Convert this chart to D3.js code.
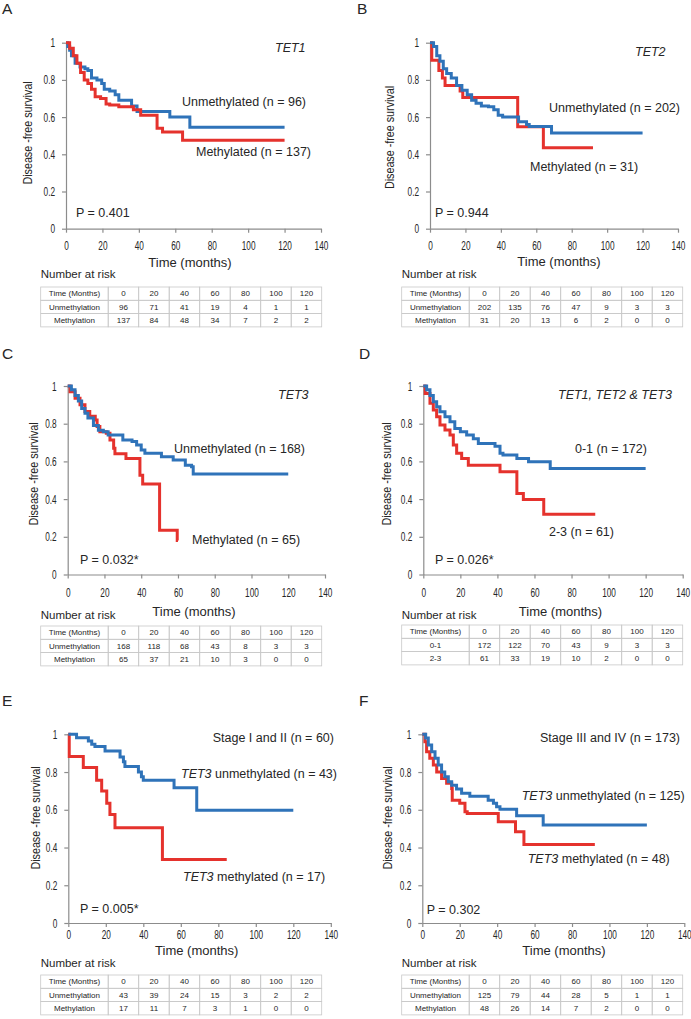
<!DOCTYPE html>
<html><head><meta charset="utf-8">
<script src="https://cdn.jsdelivr.net/npm/d3@7"></script>
<style>body{margin:0;background:#fff}svg{display:block}</style>
</head><body>
<svg id="c" width="691" height="1019"></svg>
<script>
// ---------- data ----------
const timeTicks = [0, 20, 40, 60, 80, 100, 120, 140];
const survTicks = [0, 0.2, 0.4, 0.6, 0.8, 1];
const tableTimes = [0, 20, 40, 60, 80, 100, 120];
const yTitle = "Disease -free survival";
const xTitle = "Time (months)";
const riskTitle = "Number at risk";
const tableHeader = "Time (Months)";
const methRowLabels = ["Unmethylation", "Methylation"];
const scoreRowLabels = ["0-1", "2-3"];

// survival curves: [time (months), survival after this time]
const A_unmeth = [[0,1],[1,0.98],[2,0.96],[3,0.93],[5,0.89],[7.7,0.87],[10.4,0.86],[12,0.85],[14,0.81],[17,0.80],[19.6,0.78],[21,0.75],[24,0.74],[27,0.72],[29,0.69],[36,0.66],[39,0.63],[57,0.60],[68,0.545],[120,0.545]];
const A_meth = [[0,1],[2,0.97],[4,0.93],[6,0.89],[8,0.84],[10,0.80],[12,0.78],[14,0.75],[16,0.71],[19,0.70],[22,0.67],[24,0.665],[29,0.655],[37,0.64],[41,0.61],[50,0.54],[53,0.52],[64,0.475],[120,0.475]];
const B_unmeth = [[0,1],[2,0.98],[3.8,0.93],[5.6,0.90],[7.5,0.86],[9.4,0.835],[12,0.81],[15,0.77],[18,0.745],[21,0.72],[23.5,0.69],[26,0.675],[29,0.66],[33,0.655],[36,0.64],[38.5,0.61],[41,0.60],[50,0.575],[54.5,0.56],[56,0.55],[68.6,0.515],[120,0.515]];
const B_meth = [[0,1],[1,0.905],[5,0.85],[7,0.81],[8.5,0.77],[17,0.74],[18.5,0.705],[49.5,0.548],[64,0.435],[92,0.435]];
const C_unmeth = [[0,1],[2,0.98],[4,0.95],[5.8,0.92],[7.6,0.88],[9.4,0.855],[11,0.83],[14,0.79],[16.7,0.765],[19.4,0.757],[22,0.74],[30,0.713],[35,0.705],[37.5,0.687],[40,0.66],[42,0.643],[51,0.625],[57.4,0.607],[64,0.58],[67.4,0.572],[68.3,0.533],[120,0.533]];
const C_meth = [[0,1],[1.3,0.97],[4,0.935],[6.7,0.90],[9.4,0.865],[12,0.84],[15,0.82],[16,0.785],[17.5,0.757],[21,0.75],[23,0.713],[25,0.67],[25.7,0.64],[31.7,0.616],[39.3,0.527],[40.8,0.48],[50,0.235],[59.6,0.18],[60,0.18]];
const D_low = [[0,1],[1.8,0.98],[3.6,0.95],[5.4,0.917],[7.2,0.89],[9,0.864],[11.7,0.837],[14.4,0.81],[17,0.775],[20,0.757],[23.4,0.74],[27,0.72],[29.7,0.695],[38.7,0.68],[41.4,0.643],[43,0.634],[50.5,0.616],[56.8,0.598],[68.5,0.563],[120,0.563]];
const D_high = [[0,1],[1,0.96],[3.6,0.908],[5.4,0.873],[7.2,0.837],[9,0.793],[11.7,0.766],[14.4,0.74],[16.2,0.687],[18,0.643],[20.7,0.616],[24.3,0.58],[41.4,0.545],[50.5,0.43],[54,0.398],[65,0.32],[92.8,0.32]];
const E_unmeth = [[0,1],[4.4,0.982],[10.7,0.965],[12.5,0.947],[14.2,0.935],[19.6,0.912],[27.6,0.88],[29.4,0.855],[30.2,0.83],[37.4,0.80],[39,0.775],[40,0.757],[56.4,0.717],[68.5,0.598],[120,0.598]];
const E_meth = [[0,1],[0.5,0.882],[8,0.824],[15.1,0.757],[17.8,0.70],[20.5,0.634],[22.2,0.575],[24.9,0.505],[50.2,0.336],[84.5,0.336]];
const F_unmeth = [[0,1],[1.8,0.98],[3.2,0.943],[5,0.908],[6.8,0.873],[8.5,0.837],[10.3,0.80],[12,0.775],[13.9,0.749],[15.7,0.73],[18.3,0.71],[21,0.687],[25.4,0.672],[35.2,0.651],[38,0.634],[39.7,0.616],[41.5,0.603],[50.4,0.568],[64.6,0.519],[120,0.519]];
const F_meth = [[0,1],[1.4,0.96],[2.3,0.908],[4,0.873],[5.9,0.837],[7.7,0.80],[10.3,0.766],[13,0.74],[15.7,0.713],[16,0.651],[20,0.634],[22.8,0.59],[24,0.58],[40.6,0.536],[49.8,0.483],[54.3,0.416],[92.2,0.416]];

// number at risk
const A_riskUnmeth = [96, 71, 41, 19, 4, 1, 1];
const A_riskMeth = [137, 84, 48, 34, 7, 2, 2];
const B_riskUnmeth = [202, 135, 76, 47, 9, 3, 3];
const B_riskMeth = [31, 20, 13, 6, 2, 0, 0];
const C_riskUnmeth = [168, 118, 68, 43, 8, 3, 3];
const C_riskMeth = [65, 37, 21, 10, 3, 0, 0];
const D_riskLow = [172, 122, 70, 43, 9, 3, 3];
const D_riskHigh = [61, 33, 19, 10, 2, 0, 0];
const E_riskUnmeth = [43, 39, 24, 15, 3, 2, 2];
const E_riskMeth = [17, 11, 7, 3, 1, 0, 0];
const F_riskUnmeth = [125, 79, 44, 28, 5, 1, 1];
const F_riskMeth = [48, 26, 14, 7, 2, 0, 0];

// annotation texts (segments: [text, italic])
const A_texts = [[["TET1",1]], [["Unmethylated (n = 96)",0]], [["Methylated (n = 137)",0]], [["P = 0.401",0]]];
const B_texts = [[["TET2",1]], [["Unmethylated (n = 202)",0]], [["Methylated (n = 31)",0]], [["P = 0.944",0]]];
const C_texts = [[["TET3",1]], [["Unmethylated (n = 168)",0]], [["Methylated (n = 65)",0]], [["P = 0.032*",0]]];
const D_texts = [[["TET1, TET2 & TET3",1]], [["0-1 (n = 172)",0]], [["2-3 (n = 61)",0]], [["P = 0.026*",0]]];
const E_texts = [[["Stage I and II (n = 60)",0]], [["TET3",1],[" unmethylated (n = 43)",0]], [["TET3",1],[" methylated (n = 17)",0]], [["P = 0.005*",0]]];
const F_texts = [[["Stage III and IV (n = 173)",0]], [["TET3",1],[" unmethylated (n = 125)",0]], [["TET3",1],[" methylated (n = 48)",0]], [["P = 0.302",0]]];

// ---------- layout ----------
const BLUE = "#2f73b9", RED = "#e5322d", AXIS = "#8c8c8c", INK = "#262626";
const panels = [
  {letter:"A", lx:2, ly:13.5, x0:66, x1:321, yt:42.7, yb:228.7, xpad:17, ytX:27.7, ytY:133, xtX:190, xtY:262.7, narX:40.7, narY:274, tabY:287,
   curves:[[A_unmeth,BLUE],[A_meth,RED]], rows:[A_riskUnmeth,A_riskMeth], rowLabels:methRowLabels, texts:A_texts,
   pos:[[275,48],[182,101.7],[196,151.7],[76,213]]},
  {letter:"B", lx:357, ly:13.5, x0:430, x1:678, yt:42.7, yb:228.7, xpad:17, ytX:390, ytY:137.5, xtX:559, xtY:261.7, narX:401.7, narY:274, tabY:287,
   curves:[[B_meth,RED],[B_unmeth,BLUE]], rows:[B_riskUnmeth,B_riskMeth], rowLabels:methRowLabels, texts:B_texts,
   pos:[[635,52],[549,108],[530,167],[435,213]]},
  {letter:"C", lx:2, ly:359, x0:67.7, x1:325, yt:386, yb:574.5, xpad:18, ytX:33.3, ytY:474, xtX:194, xtY:611.7, narX:40.7, narY:615, tabY:626,
   curves:[[C_meth,RED],[C_unmeth,BLUE]], rows:[C_riskUnmeth,C_riskMeth], rowLabels:methRowLabels, texts:C_texts,
   pos:[[278,395],[174,449],[192,540],[80,560]]},
  {letter:"D", lx:359, ly:359, x0:423.3, x1:682.7, yt:386, yb:574.5, xpad:18, ytX:387, ytY:474, xtX:560.5, xtY:611.7, narX:401.7, narY:615, tabY:625,
   curves:[[D_high,RED],[D_low,BLUE]], rows:[D_riskLow,D_riskHigh], rowLabels:scoreRowLabels, texts:D_texts,
   pos:[[558,395],[575,449],[549,532],[435,560]]},
  {letter:"E", lx:2, ly:705.5, x0:68.3, x1:330.8, yt:734.3, yb:923, xpad:12, ytX:35.7, ytY:818, xtX:196.7, xtY:950.7, narX:40.7, narY:962.7, tabY:975,
   curves:[[E_meth,RED],[E_unmeth,BLUE]], rows:[E_riskUnmeth,E_riskMeth], rowLabels:methRowLabels, texts:E_texts,
   pos:[[212.7,737.7],[181,774],[183,876.7],[80,908.3]]},
  {letter:"F", lx:359, ly:705.5, x0:422.3, x1:684.3, yt:734.3, yb:923, xpad:12, ytX:387.3, ytY:818, xtX:564, xtY:950.7, narX:401.7, narY:962.7, tabY:975,
   curves:[[F_meth,RED],[F_unmeth,BLUE]], rows:[F_riskUnmeth,F_riskMeth], rowLabels:methRowLabels, texts:F_texts,
   pos:[[540,737.7],[521.7,796],[527.7,858.3],[426.7,909.3]]}
];

const svg = d3.select("#c");
svg.append("rect").attr("width",691).attr("height",1019).attr("fill","#fff");
const SANS = "'Liberation Sans', Arial, sans-serif";
const TICKSCALE = 0.66, YTSCALE = 0.86;

panels.forEach(p => {
  const g = svg.append("g");
  const x = d3.scaleLinear().domain([0, 140]).range([p.x0, p.x1]);
  const y = d3.scaleLinear().domain([0, 1]).range([p.yb, p.yt]);

  g.append("text").attr("x", p.lx).attr("y", p.ly).text(p.letter)
    .attr("font-family", SANS).attr("font-size", 15.5).attr("fill", INK);

  // axes
  const yAx = g.append("g").attr("transform", `translate(${p.x0},0)`)
    .call(d3.axisLeft(y).tickValues(survTicks).tickFormat(d3.format("~g")).tickSize(4).tickSizeOuter(0).tickPadding(7));
  const xAx = g.append("g").attr("transform", `translate(0,${p.yb})`)
    .call(d3.axisBottom(x).tickValues(timeTicks).tickSize(4).tickSizeOuter(0).tickPadding(p.xpad - 8.5));
  [yAx, xAx].forEach(a => {
    a.selectAll("path, line").attr("stroke", AXIS).attr("stroke-width", 1.2);
    a.selectAll("text").attr("font-family", SANS).attr("font-size", 12.5).attr("fill", INK)
      .attr("transform", `scale(${TICKSCALE},1)`);
  });
  yAx.selectAll("text").attr("x", -11 / TICKSCALE);

  // curves
  const line = d3.line().x(d => x(d[0])).y(d => y(d[1])).curve(d3.curveStepAfter);
  p.curves.forEach(([data, col]) => {
    g.append("path").attr("d", line(data)).attr("fill", "none").attr("stroke", col)
      .attr("stroke-width", 3).attr("stroke-linejoin", "miter").attr("stroke-linecap", "butt");
  });

  // axis titles
  g.append("text").attr("transform", `translate(${p.ytX},${p.ytY}) rotate(-90) scale(${YTSCALE},1)`)
    .attr("text-anchor", "middle").attr("dy", "0.35em").text(yTitle)
    .attr("font-family", SANS).attr("font-size", 12.5).attr("fill", INK);
  g.append("text").attr("x", p.xtX).attr("y", p.xtY).attr("dy", "0.35em").attr("text-anchor", "middle")
    .text(xTitle).attr("font-family", SANS).attr("font-size", 13).attr("fill", INK);
  g.append("text").attr("x", p.narX).attr("y", p.narY).attr("dy", "0.35em")
    .text(riskTitle).attr("font-family", SANS).attr("font-size", 11.5).attr("fill", INK);

  // annotations
  p.texts.forEach((segs, i) => {
    const t = g.append("text").attr("x", p.pos[i][0]).attr("y", p.pos[i][1]).attr("dy", "0.35em")
      .attr("font-family", SANS).attr("font-size", 12.5).attr("fill", INK);
    segs.forEach(([s, it]) => t.append("tspan").text(s).attr("font-style", it ? "italic" : "normal"));
  });

  // risk table
  const tx0 = p.narX, firstW = 67.5, colW = 30.5, rowH = 13.3;
  const cx = d3.scaleBand().domain(tableTimes).range([tx0 + firstW, tx0 + firstW + colW * tableTimes.length]);
  const tg = g.append("g").attr("font-family", SANS).attr("font-size", 8).attr("fill", INK);
  const rowsAll = [[tableHeader, tableTimes], [p.rowLabels[0], p.rows[0]], [p.rowLabels[1], p.rows[1]]];
  rowsAll.forEach(([lab, vals], r) => {
    const ry = p.tabY + r * rowH;
    tg.append("rect").attr("x", tx0).attr("y", ry).attr("width", firstW).attr("height", rowH)
      .attr("fill", "none").attr("stroke", "#c8c8c8").attr("stroke-width", 0.8);
    tg.append("text").attr("x", tx0 + firstW / 2).attr("y", ry + rowH / 2).attr("dy", "0.35em")
      .attr("text-anchor", "middle").text(lab);
    tableTimes.forEach((tm, j) => {
      tg.append("rect").attr("x", cx(tm)).attr("y", ry).attr("width", cx.bandwidth()).attr("height", rowH)
        .attr("fill", "none").attr("stroke", "#c8c8c8").attr("stroke-width", 0.8);
      tg.append("text").attr("x", cx(tm) + cx.bandwidth() / 2).attr("y", ry + rowH / 2).attr("dy", "0.35em")
        .attr("text-anchor", "middle").text(vals[j]);
    });
  });
});
</script>
</body></html>
